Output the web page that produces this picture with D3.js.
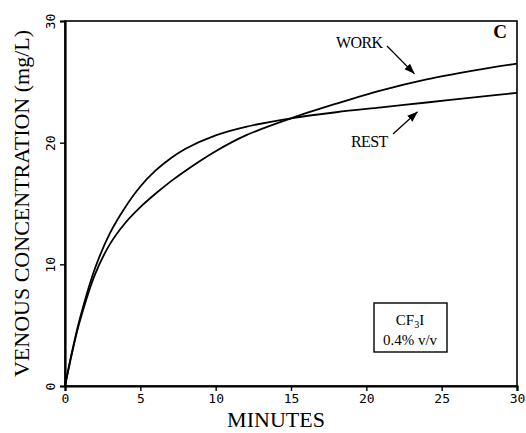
<!DOCTYPE html>
<html>
<head>
<meta charset="utf-8">
<script src="https://cdn.jsdelivr.net/npm/d3@7"></script>
<style>
  body { margin: 0; background: #fff; }
  svg { display: block; }
</style>
</head>
<body>
<div id="vis"></div>
<script>
// values (minutes, mg/L)
const minutes = [0, 0.5, 1, 2, 3, 4, 5, 6, 7, 8, 10, 12, 15, 18, 21, 24, 27, 30]
const rest = [0, 3.0, 5.6, 9.7, 12.6, 14.7, 16.4, 17.7, 18.7, 19.5, 20.6, 21.3, 22.0, 22.5, 22.9, 23.3, 23.7, 24.1]
const work = [0, 2.9, 5.4, 9.2, 11.7, 13.4, 14.7, 15.8, 16.8, 17.7, 19.3, 20.6, 22.0, 23.2, 24.3, 25.2, 25.9, 26.5]
const xTicks = [0, 5, 10, 15, 20, 25, 30]
const yTicks = [0, 10, 20, 30]

const width = 526
const height = 433
const margin = { left: 65, right: 9, top: 21, bottom: 47 }

const svg = d3.select('#vis')
    .append('svg')
    .attr('width', width)
    .attr('height', height)

const x = d3.scaleLinear().domain([0, 30]).range([margin.left, width - margin.right])
const y = d3.scaleLinear().domain([0, 30]).range([height - margin.bottom, margin.top])

//arrow head
svg.append('defs').append('marker')
    .attr('id', 'arrow')
    .attr('viewBox', '0 0 10 10')
    .attr('refX', 10).attr('refY', 5)
    .attr('markerWidth', 8).attr('markerHeight', 8)
    .attr('markerUnits', 'strokeWidth')
    .attr('orient', 'auto')
    .append('path')
    .attr('d', 'M0,1.2 L10,5 L0,8.8 Z')
    .attr('fill', '#000')

//frame
svg.append('rect')
    .attr('x', x(0)).attr('y', y(30))
    .attr('width', x(30) - x(0)).attr('height', y(0) - y(30))
    .attr('fill', 'none').attr('stroke', '#000').attr('stroke-width', 1.6)

//axes
const xAxis = svg.append('g')
    .attr('transform', `translate(0,${y(0)})`)
    .call(d3.axisBottom(x).tickValues(xTicks).tickSize(5).tickPadding(3))
const yAxis = svg.append('g')
    .attr('transform', `translate(${x(0)},0)`)
    .call(d3.axisLeft(y).tickValues(yTicks).tickSize(5).tickPadding(3))

svg.selectAll('.domain').attr('stroke-width', 2.2)
svg.selectAll('.tick line').attr('stroke-width', 1.4)
svg.selectAll('.tick text')
    .attr('font-family', 'DejaVu Sans Mono')
    .attr('font-size', 13)
    .attr('fill', '#000')

yAxis.selectAll('.tick text')
    .attr('text-anchor', 'middle')
    .attr('dy', 0)
    .attr('transform', 'translate(-15,0) rotate(-90)')
    .attr('x', 0)
    .attr('y', 0)
    .attr('dominant-baseline', 'central')

//curves
const line = d3.line()
    .x((d, i) => x(minutes[i]))
    .y(d => y(d))
    .curve(d3.curveCatmullRom.alpha(0.5))

svg.append('path').datum(rest).attr('d', line)
    .attr('fill', 'none').attr('stroke', '#000').attr('stroke-width', 1.8)
svg.append('path').datum(work).attr('d', line)
    .attr('fill', 'none').attr('stroke', '#000').attr('stroke-width', 1.8)

//labels
const serif = 'Liberation Serif'
svg.append('text')
    .attr('transform', `translate(29,${(y(0) + y(30)) / 2}) rotate(-90)`)
    .attr('text-anchor', 'middle')
    .attr('font-family', serif).attr('font-size', 22)
    .text('VENOUS CONCENTRATION (mg/L)')

svg.append('text')
    .attr('x', 276).attr('y', 427)
    .attr('text-anchor', 'middle')
    .attr('font-family', serif).attr('font-size', 22)
    .text('MINUTES')

svg.append('text')
    .attr('x', 500).attr('y', 38)
    .attr('text-anchor', 'middle')
    .attr('font-family', serif).attr('font-size', 19).attr('font-weight', 'bold')
    .text('C')

svg.append('text')
    .attr('x', 336).attr('y', 48)
    .attr('font-family', serif).attr('font-size', 16).attr('letter-spacing', -0.6)
    .text('WORK')
svg.append('line')
    .attr('x1', 387).attr('y1', 46).attr('x2', x(23.2)).attr('y2', y(25.0) - 8)
    .attr('stroke', '#000').attr('stroke-width', 1.3).attr('marker-end', 'url(#arrow)')

svg.append('text')
    .attr('x', 351).attr('y', 147)
    .attr('font-family', serif).attr('font-size', 16).attr('letter-spacing', -0.6)
    .text('REST')
svg.append('line')
    .attr('x1', 393).attr('y1', 134).attr('x2', x(23.4)).attr('y2', y(23.2) + 8)
    .attr('stroke', '#000').attr('stroke-width', 1.3).attr('marker-end', 'url(#arrow)')

//legend box
const box = svg.append('g')
box.append('rect')
    .attr('x', 374).attr('y', 303).attr('width', 73).attr('height', 49)
    .attr('fill', '#fff').attr('stroke', '#000').attr('stroke-width', 1.4)
const cf = box.append('text')
    .attr('x', 410).attr('y', 325)
    .attr('text-anchor', 'middle')
    .attr('font-family', serif).attr('font-size', 15)
cf.append('tspan').text('CF')
cf.append('tspan').attr('font-size', 10).attr('dy', 3).text('3')
cf.append('tspan').attr('dy', -3).text('I')
box.append('text')
    .attr('x', 410).attr('y', 345)
    .attr('text-anchor', 'middle')
    .attr('font-family', serif).attr('font-size', 15)
    .text('0.4% v/v')
</script>
</body>
</html>
